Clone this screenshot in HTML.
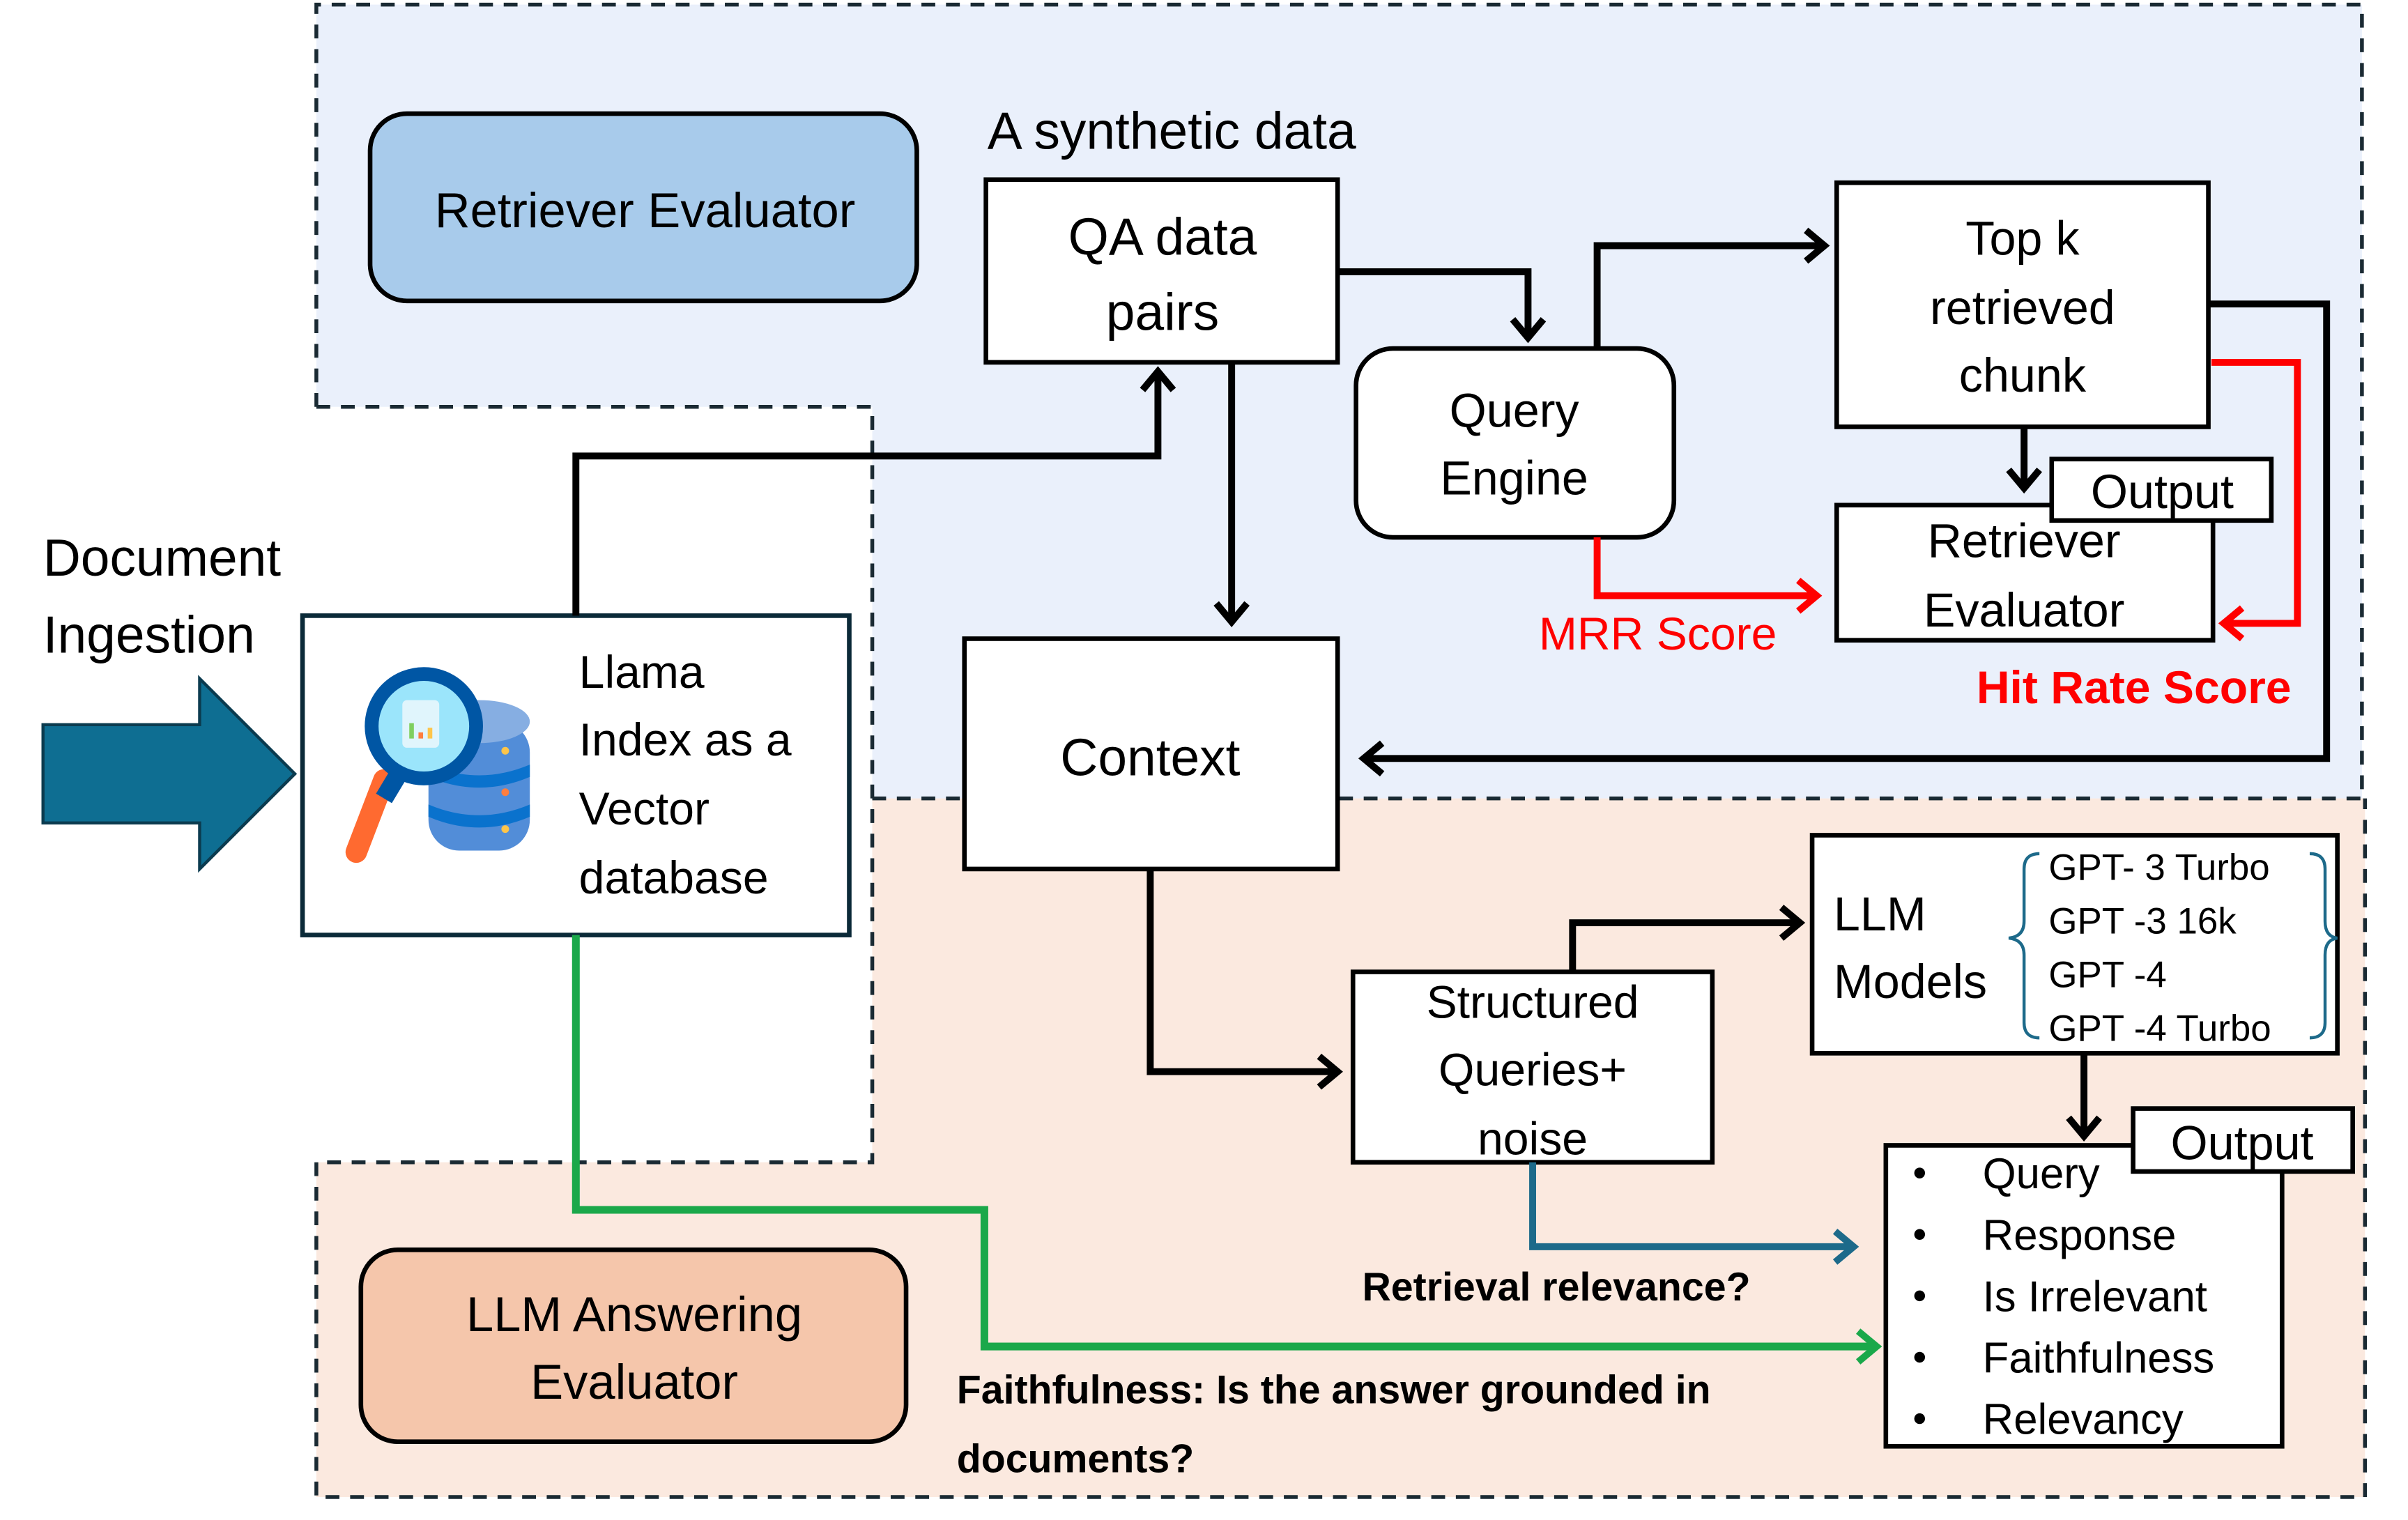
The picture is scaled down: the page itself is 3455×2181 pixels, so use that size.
<!DOCTYPE html>
<html><head><meta charset="utf-8"><style>
html,body{margin:0;padding:0;background:#fff}
svg{display:block}
text{font-family:"Liberation Sans",Arial,sans-serif;fill:#000}
</style></head><body>
<svg width="3455" height="2181" viewBox="0 0 1568 990" preserveAspectRatio="none" xmlns="http://www.w3.org/2000/svg">
<defs>
<marker id="ak" markerWidth="10" markerHeight="10" refX="8" refY="5" orient="auto" markerUnits="userSpaceOnUse" viewBox="0 0 10 10" overflow="visible">
<path d="M-4,-5 L8,5 L-4,15" fill="none" stroke="#000" stroke-width="4.5"/></marker>
<marker id="ar" markerWidth="10" markerHeight="10" refX="8" refY="5" orient="auto" markerUnits="userSpaceOnUse" viewBox="0 0 10 10" overflow="visible">
<path d="M-4,-5 L8,5 L-4,15" fill="none" stroke="#f00" stroke-width="4.5"/></marker>
<marker id="ab" markerWidth="10" markerHeight="10" refX="8" refY="5" orient="auto" markerUnits="userSpaceOnUse" viewBox="0 0 10 10" overflow="visible">
<path d="M-4,-5 L8,5 L-4,15" fill="none" stroke="#1d6a8a" stroke-width="4.5"/></marker>
<marker id="ag" markerWidth="10" markerHeight="10" refX="8" refY="5" orient="auto" markerUnits="userSpaceOnUse" viewBox="0 0 10 10" overflow="visible">
<path d="M-4,-5 L8,5 L-4,15" fill="none" stroke="#1aa84a" stroke-width="4.5"/></marker>
</defs>

<polygon points="206,3 1538,3 1538,520 568,520 568,265 206,265" fill="#eaf0fb"/>
<polygon points="568,520 1540,520 1540,975 206,975 206,757 568,757" fill="#fbe9df"/>
<g fill="none" stroke="#1a2a33" stroke-width="2.5" stroke-dasharray="9,7">
<polyline points="206,265 206,3 1538,3 1538,520 568,520"/>
<polyline points="206,265 568,265 568,757 206,757 206,975 1540,975 1540,520"/>
</g>

<rect x="241" y="74" width="356" height="122" rx="24" fill="#a8cbeb" stroke="#000" stroke-width="3"/>
<text x="420" y="148" font-size="32" text-anchor="middle">Retriever Evaluator</text>

<text x="643" y="97" font-size="34">A synthetic data</text>

<rect x="642" y="117" width="229" height="119" fill="#fff" stroke="#000" stroke-width="3"/>
<text x="757" y="166" font-size="34" text-anchor="middle">QA data</text>
<text x="757" y="215" font-size="34" text-anchor="middle">pairs</text>

<rect x="883" y="227" width="207" height="123" rx="24" fill="#fff" stroke="#000" stroke-width="3"/>
<text x="986" y="278" font-size="31" text-anchor="middle">Query</text>
<text x="986" y="322" font-size="31" text-anchor="middle">Engine</text>

<rect x="1196" y="119" width="242" height="159" fill="#fff" stroke="#000" stroke-width="3"/>
<text x="1317" y="166" font-size="31" text-anchor="middle">Top k</text>
<text x="1317" y="211" font-size="31" text-anchor="middle">retrieved</text>
<text x="1317" y="255" font-size="31" text-anchor="middle">chunk</text>

<rect x="1196" y="329" width="245" height="88" fill="#fff" stroke="#000" stroke-width="3"/>
<text x="1318" y="363" font-size="31" text-anchor="middle">Retriever</text>
<text x="1318" y="408" font-size="31" text-anchor="middle">Evaluator</text>
<rect x="1336" y="299" width="143" height="40" fill="#fff" stroke="#000" stroke-width="3"/>
<text x="1408" y="331" font-size="31" text-anchor="middle">Output</text>

<text x="1002" y="423" font-size="30" style="fill:#f00">MRR Score</text>
<text x="1287" y="458" font-size="30" font-weight="bold" style="fill:#f00">Hit Rate Score</text>

<rect x="628" y="416" width="243" height="150" fill="#fff" stroke="#000" stroke-width="3"/>
<text x="749" y="505" font-size="34" text-anchor="middle">Context</text>

<text x="28" y="375" font-size="34">Document</text>
<text x="28" y="425" font-size="34">Ingestion</text>
<polygon points="28,472 130,472 130,442 192,504 130,566 130,536 28,536" fill="#0e6e92" stroke="#0b3b4f" stroke-width="2"/>

<rect x="197" y="401" width="356" height="208" fill="#fff" stroke="#0b2a38" stroke-width="3"/>
<text x="377" y="448" font-size="30">Llama</text>
<text x="377" y="492" font-size="30">Index as a</text>
<text x="377" y="537" font-size="30">Vector</text>
<text x="377" y="582" font-size="30">database</text>
<g>
<rect x="279" y="470" width="66" height="84" rx="20" fill="#528dd8"/>
<ellipse cx="312" cy="470" rx="33" ry="14" fill="#86aee2"/>
<path d="M279,498 Q312,512 345,498 L345,506 Q312,520 279,506Z" fill="#0a72cd"/>
<path d="M279,524 Q312,538 345,524 L345,532 Q312,546 279,532Z" fill="#0a72cd"/>
<circle cx="329" cy="489" r="2.5" fill="#fdc54a"/><circle cx="329" cy="516" r="2.5" fill="#ff7e3e"/><circle cx="329" cy="540" r="2.5" fill="#fdc54a"/>
<line x1="250" y1="508" x2="232" y2="555" stroke="#ff6a30" stroke-width="14" stroke-linecap="round"/>
<line x1="262" y1="500" x2="250" y2="520" stroke="#0056a4" stroke-width="12"/>
<circle cx="276" cy="473" r="34" fill="#9be5fb" stroke="#0056a4" stroke-width="9"/>
<rect x="262" y="456" width="24" height="31" rx="3" fill="#e0f5fc"/>
<line x1="268" y1="471" x2="268" y2="481" stroke="#7fcf5e" stroke-width="3"/>
<line x1="274" y1="477" x2="274" y2="481" stroke="#ff7e3e" stroke-width="3"/>
<line x1="280" y1="474" x2="280" y2="481" stroke="#fdc54a" stroke-width="3"/>
</g>

<rect x="235" y="814" width="355" height="125" rx="24" fill="#f5c6ab" stroke="#000" stroke-width="3"/>
<text x="413" y="867" font-size="32" text-anchor="middle">LLM Answering</text>
<text x="413" y="911" font-size="32" text-anchor="middle">Evaluator</text>

<rect x="881" y="633" width="234" height="124" fill="#fff" stroke="#000" stroke-width="3"/>
<text x="998" y="663" font-size="30" text-anchor="middle">Structured</text>
<text x="998" y="707" font-size="30" text-anchor="middle">Queries+</text>
<text x="998" y="752" font-size="30" text-anchor="middle">noise</text>

<rect x="1180" y="544" width="342" height="142" fill="#fff" stroke="#000" stroke-width="3"/>
<text x="1194" y="606" font-size="31">LLM</text>
<text x="1194" y="650" font-size="31">Models</text>
<path d="M1328,556 Q1318,556 1318,566 L1318,600 Q1318,610 1308,611 Q1318,612 1318,622 L1318,666 Q1318,676 1328,676" fill="none" stroke="#1d6a8a" stroke-width="2"/>
<path d="M1504,556 Q1514,556 1514,566 L1514,600 Q1514,610 1522,611 Q1514,612 1514,622 L1514,666 Q1514,676 1504,676" fill="none" stroke="#1d6a8a" stroke-width="2"/>
<text x="1334" y="573" font-size="24">GPT- 3 Turbo</text>
<text x="1334" y="608" font-size="24">GPT -3 16k</text>
<text x="1334" y="643" font-size="24">GPT -4</text>
<text x="1334" y="678" font-size="24">GPT -4 Turbo</text>

<rect x="1228" y="746" width="258" height="196" fill="#fff" stroke="#000" stroke-width="3"/>
<rect x="1389" y="722" width="143" height="41" fill="#fff" stroke="#000" stroke-width="3"/>
<text x="1460" y="755" font-size="31" text-anchor="middle">Output</text>
<g font-size="28">
<text x="1291" y="774">Query</text>
<text x="1291" y="814">Response</text>
<text x="1291" y="854">Is Irrelevant</text>
<text x="1291" y="894">Faithfulness</text>
<text x="1291" y="934">Relevancy</text>
</g>
<g fill="#000"><circle cx="1250" cy="764" r="3.5"/><circle cx="1250" cy="804" r="3.5"/><circle cx="1250" cy="844" r="3.5"/><circle cx="1250" cy="884" r="3.5"/><circle cx="1250" cy="924" r="3.5"/></g>

<text x="887" y="847" font-size="26" font-weight="bold">Retrieval relevance?</text>
<text x="623" y="914" font-size="26" font-weight="bold">Faithfulness: Is the answer grounded in</text>
<text x="623" y="959" font-size="26" font-weight="bold">documents?</text>

<g fill="none" stroke="#000" stroke-width="4.5">
<polyline points="375,401 375,297 754,297 754,242" marker-end="url(#ak)"/>
<polyline points="871,177 995,177 995,220" marker-end="url(#ak)"/>
<polyline points="802,236 802,405" marker-end="url(#ak)"/>
<polyline points="1040,227 1040,160 1188,160" marker-end="url(#ak)"/>
<polyline points="1318,278 1318,318" marker-end="url(#ak)"/>
<polyline points="1438,198 1515,198 1515,494 888,494" marker-end="url(#ak)"/>
<polyline points="749,566 749,698 871,698" marker-end="url(#ak)"/>
<polyline points="1024,633 1024,601 1172,601" marker-end="url(#ak)"/>
<polyline points="1357,686 1357,740" marker-end="url(#ak)"/>
</g>
<polyline points="1440,236 1496,236 1496,406 1448,406" fill="none" stroke="#f00" stroke-width="4.5" marker-end="url(#ar)"/>
<polyline points="1040,350 1040,388 1183,388" fill="none" stroke="#f00" stroke-width="4.5" marker-end="url(#ar)"/>
<polyline points="998,757 998,812 1207,812" fill="none" stroke="#1d6a8a" stroke-width="4.5" marker-end="url(#ab)"/>
<polyline points="375,609 375,788 641,788 641,877 1222,877" fill="none" stroke="#1aa84a" stroke-width="5" marker-end="url(#ag)"/>
</svg>
</body></html>
